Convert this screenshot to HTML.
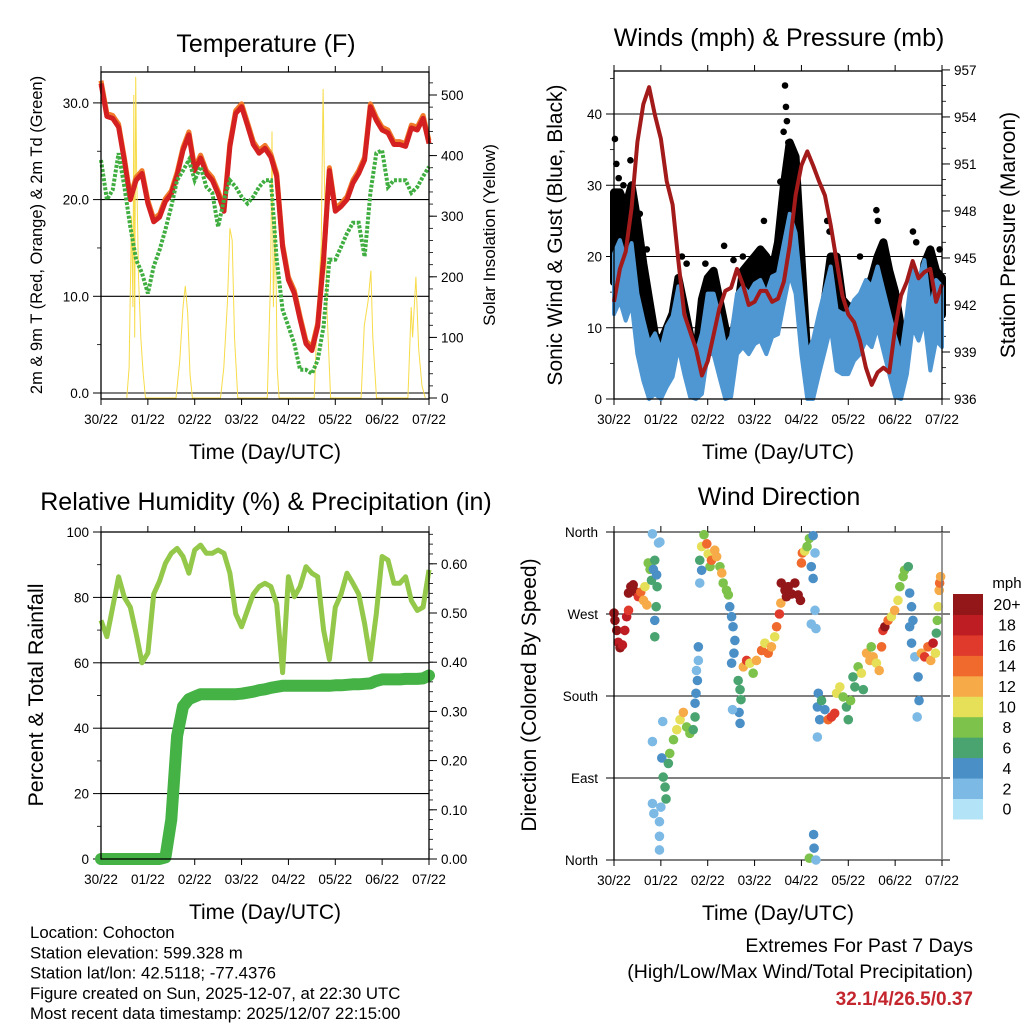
<!DOCTYPE html>
<html><head><meta charset="utf-8"><style>
html,body{margin:0;padding:0;background:#fff;}
svg{display:block;font-family:"Liberation Sans",sans-serif;}
</style></head><body>
<svg id="chart" width="1024" height="1024" viewBox="0 0 1024 1024" xmlns="http://www.w3.org/2000/svg"></svg>
<script>
// ---------- DATA ----------
const dayLabels = ["30/22","01/22","02/22","03/22","04/22","05/22","06/22","07/22"];
const step = 0.125; // days between samples
const tempRed = [32,28.6,28.4,27.5,24,20,22,22.7,19.6,17.7,18.2,19.8,20.6,22.5,25.1,26.7,23,24.3,22.7,22,20.6,18.8,25.5,28.9,29.6,27.7,25.7,24.8,25.3,24.4,22.4,15.1,11.7,10.3,7.6,5.1,4.4,6.9,13.8,23,18.8,19.3,20,21.7,22.7,24.1,29.6,28.2,27.2,26.9,25.7,25.7,25.5,27.4,27.2,28.4,25.8];
const dewGreen = [24.1,20,21,24.8,21.3,17.2,13.8,12.4,10.3,13.1,14.8,16.9,19.3,22,23,24.1,22,23.4,21.3,20.7,17.2,20,22,21.3,20.3,19.6,20.3,21.3,22,22,13.8,8.6,6.9,5.1,2.4,2.4,2,3.4,6.9,13.8,13.8,15.1,16.5,17.6,17.6,14.1,20.7,24.8,25.1,21.3,22,22,22,20.7,21.3,22.4,23.4];
const solarT = [0.55,0.6,0.65,0.68,0.7,0.72,0.74,0.76,0.8,0.85,0.9,0.95,1.6,1.68,1.75,1.8,1.85,1.9,1.95,2.55,2.62,2.7,2.75,2.8,2.85,2.92,3.55,3.62,3.65,3.68,3.72,3.76,3.8,4.55,4.62,4.7,4.74,4.78,4.82,4.9,5.55,5.62,5.7,5.76,5.8,5.88,6.55,6.62,6.65,6.72,6.78,6.85,6.92];
const solarV = [0,50,300,150,500,100,530,380,200,100,40,0,0,60,150,185,140,40,0,0,50,160,280,260,100,0,0,200,440,150,300,50,0,0,150,250,510,300,150,0,0,120,160,210,100,0,0,150,100,200,80,20,0];
const pressure = [942.2,944.3,945.4,948.2,952.4,954.8,955.9,954.1,952.6,949.9,948.4,944.8,941.4,940.3,939.2,937.5,938.4,940.1,941.8,942.9,943.1,944.3,943.3,942,942.2,942.9,942.9,942.2,942.4,943.5,945.8,949,950.9,951.8,950.9,949.9,949,947.1,944.8,942.6,941.4,940.9,939.7,938,936.9,937.7,938,937.7,940.5,942.6,943.5,944.8,943.7,944.1,944.3,942.2,943.3];
const windSpd = [16.4,18.3,15.5,17.9,10.8,7.1,3.8,5.2,2.9,6.2,7.6,11.8,8,4.8,2.4,5.2,10.8,10.8,7.6,3.4,4.8,10.8,11.8,10.8,12.2,12.7,10.8,13.2,13.6,17.9,22,19.3,10.8,2.4,4.3,8,11.3,14.6,8.5,8,8,9.9,10.8,12.7,11.8,14.6,11.3,8,4.8,2,8,14.6,12.7,15.5,8.5,12.7,11.8];
const windGust = [29,29,27,30,25,19,14,9,8,10,12,17,13,9,6,14,17,18,14,10,8,12,18,19,20,21,20,18,22,30,36,34,20,6,6,9,14,20,20,14,13,13,14,15,17,20,22,18,15,10,8,14,12,19,21,18,17];
const gustPeakT = [0.02,0.05,0.1,0.2,0.35,0.42,0.55,0.7,1.45,1.55,1.95,2.35,2.55,2.75,3.2,3.55,3.62,3.65,3.67,3.69,3.72,4.55,4.6,5.25,5.6,5.63,6.38,6.45,6.95];
const gustPeakV = [36.5,33,31,30,33.5,27,26,21,20,19,19,21.5,19.5,20,25,30.5,37.5,44,41,39,36,25,23.5,20,26.5,25,23.5,22,21];
const rh = [73,68,77,86.3,80,77,69,60,63,81,85,90.4,93.5,95,92.5,87.4,94.5,96,93.5,93.5,94.5,93.5,87.4,75,71,76,81,83.3,84.3,83.3,78,57,86.3,80.2,83.3,89.4,87.4,86.3,70,61,77,81,87.4,84.3,81,72,61,75,92.5,91.4,84.3,84.3,86.3,79,76,77,88.4];
const precip = [0,0,0,0,0,0,0,0,0,0,0,0.003,0.08,0.25,0.31,0.325,0.33,0.335,0.335,0.335,0.335,0.335,0.335,0.335,0.336,0.338,0.34,0.343,0.345,0.348,0.35,0.352,0.352,0.352,0.352,0.352,0.352,0.352,0.352,0.352,0.353,0.353,0.354,0.355,0.355,0.356,0.357,0.362,0.365,0.365,0.365,0.365,0.366,0.366,0.366,0.367,0.373];
const dirT = [0,0.02,0.06,0.09,0.13,0.18,0.23,0.27,0.31,0.31,0.36,0.41,0.47,0.52,0.57,0.63,0.66,0.7,0.73,0.77,0.8,0.84,0.87,0.91,0.92,0.9,0.87,0.87,0.95,0.82,0.98,0.82,0.82,0.85,0.97,0.97,0.97,1.0,1.02,1.05,1.09,1.11,1.16,1.19,1.04,1.27,1.34,1.41,1.48,1.55,1.62,1.69,1.73,1.73,1.75,1.78,1.8,1.8,1.76,1.83,1.87,1.92,1.98,2.01,2.05,2.08,2.15,2.19,1.83,1.87,2.26,2.3,2.33,2.4,2.44,2.47,2.51,2.54,2.58,2.56,2.51,2.65,2.69,2.71,2.67,2.69,2.53,2.76,2.83,2.9,2.97,3.04,3.15,3.22,3.29,3.36,3.43,3.47,3.53,3.56,3.57,3.65,3.72,3.79,3.86,3.93,3.98,3.68,4.0,4.02,4.07,4.12,4.17,4.21,4.25,4.25,4.29,4.29,4.21,4.31,4.26,4.27,4.17,4.31,4.36,4.34,4.39,4.34,4.43,4.5,4.57,4.64,4.71,4.75,4.82,4.89,4.96,5.0,5.05,5.1,5.14,5.21,5.28,5.32,5.39,5.46,5.49,5.53,5.6,5.66,5.71,5.74,5.78,5.85,5.92,5.99,6.06,6.1,6.17,6.2,6.28,6.31,6.35,6.31,6.35,6.38,6.42,6.49,6.51,6.47,6.56,6.63,6.7,6.76,6.81,6.86,6.88,6.9,6.92,6.94,6.95,6.97];
const dirDeg = [271,263,252,239,233,236,252,267,274,293,300,302,294,289,294,285,300,280,326,319,307,319,329,313,300,278,263,245,348,358,349,130,62,51,42,26,11,58,112,91,80,67,106,117,152,132,143,154,162,146,139,143,157,172,183,197,219,234,208,329,344,357,347,336,322,329,340,333,304,318,322,315,304,296,291,278,267,256,241,227,216,197,187,176,162,150,165,212,219,216,205,219,230,238,227,234,245,256,270,282,304,296,300,292,304,291,285,289,326,337,339,344,353,322,309,356,337,274,259,254,28,13,2,0,183,168,154,135,175,165,154,157,161,183,190,179,168,154,175,201,190,212,205,187,227,219,234,223,216,208,234,252,256,263,267,274,285,300,311,318,322,293,278,256,238,263,223,201,175,157,227,223,234,219,238,227,249,263,278,296,304,311];
const dirSpd = [20,19,20,18,19,18,17,18,16,20,21,20,19,16,13,12,10,11,8,7,6,4,5,4,5,5,3,6,2,2,2,1,2,2,2,2,2,2,4,6,6,6,6,7,2,8,9,10,11,8,7,6,5,4,4,3,2,4,2,5,9,8,14,10,8,13,12,12,1,4,8,11,7,7,7,4,4,4,4,3,3,6,6,6,4,4,2,12,15,10,7,12,14,10,14,11,10,14,15,12,20,21,20,19,21,20,19,20,14,14,10,8,8,3,3,4,2,2,2,1,3,4,8,1,4,4,3,2,5,4,14,16,15,10,9,7,6,6,7,6,5,8,10,6,12,11,8,12,10,12,14,16,19,14,10,12,10,8,8,7,6,4,4,4,3,4,2,4,4,2,12,16,14,12,17,10,6,8,10,11,14,12];
const cbLabels = ["0","2","4","6","8","10","12","14","16","18","20+"];
const cbColors = ["#b3e3f7","#7cb9e4","#4b8fc7","#4aa46f","#7dc24b","#e6df58","#f6aa48","#ef6a2c","#df3a2b","#bf1d24","#931619"];

// ---------- HELPERS ----------
const NS="http://www.w3.org/2000/svg";
const svg=document.getElementById('chart');
function el(tag,attrs,parent,txt){const e=document.createElementNS(NS,tag);for(const k in attrs)e.setAttribute(k,attrs[k]);if(txt!==undefined)e.textContent=txt;(parent||svg).appendChild(e);return e;}
function grp(name){const g=el('g',{});


return g;}
function lin(d0,d1,p0,p1){return v=>p0+(v-d0)*(p1-p0)/(d1-d0);}

function panel(name,L,R,T,B){
  const g=grp(name);
  const xs=lin(0,7,L,R);
  for(let i=0;i<dayLabels.length;i++){
    const x=xs(i);
    el('line',{x1:x,y1:B,x2:x,y2:B+6,stroke:'#000','stroke-width':1},g);
    el('line',{x1:x,y1:T,x2:x,y2:T-6,stroke:'#000','stroke-width':1},g);
    const t=el('text',{x:x,y:B+25,'font-size':13.5,'text-anchor':'middle'},g,dayLabels[i]);
    
    
  }
  const xt=el('text',{x:(L+R)/2,y:B+60,'font-size':21,'text-anchor':'middle'},g,'Time (Day/UTC)');
  
  
  return {g,xs};
}
function yaxis(g,L,R,T,B,scale,side,majors,minors,fmt,grid){
  const x=side==='left'?L:R, dir=side==='left'?-1:1;
  minors.forEach(v=>{const y=scale(v);if(y<T-1||y>B+1)return;el('line',{x1:x,y1:y,x2:x+dir*4,y2:y,stroke:'#000','stroke-width':0.8},g);});
  majors.forEach(v=>{const y=scale(v);
    el('line',{x1:x,y1:y,x2:x+dir*8,y2:y,stroke:'#000','stroke-width':1},g);
    if(grid)el('line',{x1:L,y1:y,x2:R,y2:y,stroke:'#000','stroke-width':1.1},g);
    const t=el('text',{x:x+dir*12,y:y+5,'font-size':13.5,'text-anchor':side==='left'?'end':'start'},g,fmt(v));
    
    
  });
}
function frame(g,L,R,T,B){el('rect',{x:L,y:T,width:R-L,height:B-T,fill:'none',stroke:'#000','stroke-width':1.3},g);}
function title(txt,x,y,name,size){const t=el('text',{x:x,y:y,'font-size':size||25,'text-anchor':'middle'},svg,txt);

}
function vlabel(g,txt,x,y,size,name){const t=el('text',{x:x,y:y,'font-size':size,'text-anchor':'middle',transform:`rotate(-90 ${x} ${y})`},g,txt);

}
function pathFrom(ts,vs,xs,ys){return ts.map((t,i)=>(i?'L':'M')+xs(t).toFixed(1)+','+ys(vs[i]).toFixed(1)).join('');}
const idxT=arr=>arr.map((_,i)=>i*step);
function range(a,b,s){const r=[];for(let v=a;v<=b+1e-9;v+=s)r.push(+v.toFixed(4));return r;}

// ---------- PANEL 1: TEMPERATURE ----------
{
  const L=101,R=429,T=72,B=399;
  const {g,xs}=panel('temperature-panel',L,R,T,B);
  const yT=v=>393-9.67*v;
  const yS=v=>398-0.606*v;
  yaxis(g,L,R,T,B,yT,'left',[0,10,20,30],[5,15,25],v=>v.toFixed(1),true);
  yaxis(g,L,R,T,B,yS,'right',[0,100,200,300,400,500],range(0,540,20),v=>String(v),false);
  const sp=el('path',{d:pathFrom(solarT,solarV,xs,yS),fill:'none',stroke:'#f7dc4a','stroke-width':1},g);
  
  
  const tt=idxT(tempRed);
  const o=el('path',{d:pathFrom(tt,tempRed.map(v=>v+0.3),xs,yT),fill:'none',stroke:'#f07a2a','stroke-width':5,'stroke-linejoin':'round'},g);
  
  
  const r=el('path',{d:pathFrom(tt,tempRed,xs,yT),fill:'none',stroke:'#d42020','stroke-width':5,'stroke-linejoin':'round'},g);
  
  
  const dg=el('path',{d:pathFrom(idxT(dewGreen),dewGreen,xs,yT),fill:'none',stroke:'#3fad3f','stroke-width':4,'stroke-dasharray':'3 1.6'},g);
  
  
  frame(g,L,R,T,B);
  vlabel(g,'2m & 9m T (Red, Orange) & 2m Td (Green)',42,235,16.5,'left-y-axis-title');
  vlabel(g,'Solar Insolation (Yellow)',495,235,17,'right-y-axis-title');
  title('Temperature (F)',266,52,'temperature-title');
}

// ---------- PANEL 2: WINDS ----------
{
  const L=614,R=942,T=71,B=399;
  const {g,xs}=panel('winds-panel',L,R,T,B);
  const yW=v=>399-7.125*v;
  const yP=v=>399-15.67*(v-936);
  yaxis(g,L,R,T,B,yW,'left',[0,10,20,30,40],[5,15,25,35,45],v=>String(v),true);
  yaxis(g,L,R,T,B,yP,'right',[936,939,942,945,948,951,954,957],range(936,957,1),v=>String(v),false);
  const wt=idxT(windSpd);
  const gd=pathFrom(wt,windGust,xs,yW)+pathFrom(wt.slice().reverse(),windSpd.slice().reverse(),xs,yW).replace('M','L')+'Z';
  const gb=el('path',{d:gd,fill:'#000',stroke:'#000','stroke-width':8,'stroke-linejoin':'round'},g);
  
  
  gustPeakT.forEach((t,i)=>{const c=el('circle',{cx:xs(t),cy:yW(gustPeakV[i]),r:3.3,fill:'#000'},g);
    
    });
  const lo=windSpd.map(v=>Math.max(0,v-4.5)), hi=windSpd.map(v=>v+4);
  const wd=pathFrom(wt,hi,xs,yW)+pathFrom(wt.slice().reverse(),lo.slice().reverse(),xs,yW).replace('M','L')+'Z';
  const wb=el('path',{d:wd,fill:'#4f97d3',stroke:'#4f97d3','stroke-width':4,'stroke-linejoin':'round'},g);
  
  
  const pl=el('path',{d:pathFrom(idxT(pressure),pressure,xs,yP),fill:'none',stroke:'#a31a1a','stroke-width':4,'stroke-linejoin':'round'},g);
  
  
  frame(g,L,R,T,B);
  vlabel(g,'Sonic Wind & Gust (Blue, Black)',562,235,21,'left-y-axis-title');
  vlabel(g,'Station Pressure (Maroon)',1015,235,21,'right-y-axis-title');
  title('Winds (mph) & Pressure (mb)',779,46,'winds-title');
}

// ---------- PANEL 3: RH & PRECIP ----------
{
  const L=101,R=429,T=532,B=859;
  const {g,xs}=panel('humidity-panel',L,R,T,B);
  const yH=v=>859-3.27*v;
  const yR=v=>859-492*v;
  yaxis(g,L,R,T,B,yH,'left',[0,20,40,60,80,100],[10,30,50,70,90],v=>String(v),true);
  yaxis(g,L,R,T,B,yR,'right',[0,0.1,0.2,0.3,0.4,0.5,0.6],range(0,0.66,0.02),v=>v.toFixed(2),false);
  const rl=el('path',{d:pathFrom(idxT(rh),rh,xs,yH),fill:'none',stroke:'#93c84a','stroke-width':5,'stroke-linejoin':'round'},g);
  
  
  const pr=el('path',{d:pathFrom(idxT(precip),precip,xs,yR),fill:'none',stroke:'#45b245','stroke-width':12,'stroke-linejoin':'round','stroke-linecap':'round'},g);
  
  
  frame(g,L,R,T,B);
  vlabel(g,'Percent & Total Rainfall',43,695,21.5,'left-y-axis-title');
  title('Relative Humidity (%) & Precipitation (in)',266,510,'humidity-title');
}

// ---------- PANEL 4: WIND DIRECTION ----------
{
  const L=614,R=942,T=532,B=860;
  const {g,xs}=panel('wind-direction-panel',L,R,T,B);
  const yD=v=>860-v*(328/360);
  const dirNames=["North","East","South","West","North"];
  dirNames.forEach((n,i)=>{const y=yD(i*90);
    el('line',{x1:L-8,y1:y,x2:R+8,y2:y,stroke:'#000','stroke-width':1.1},g);
    const t=el('text',{x:L-16,y:y+5,'font-size':13.5,'text-anchor':'end'},g,n);
    
    
  });
  dirT.forEach((t,i)=>{
    const bin=Math.min(10,Math.max(0,Math.round(dirSpd[i]/2)));
    const c=el('circle',{cx:xs(t),cy:yD(dirDeg[i]),r:4.8,fill:cbColors[bin]},g);
    
    
  });
  el('line',{x1:L,y1:T,x2:L,y2:B,stroke:'#000','stroke-width':1.3},g);
  el('line',{x1:R,y1:T,x2:R,y2:B,stroke:'#777','stroke-width':1.5},g);
  vlabel(g,'Direction (Colored By Speed)',536,695,21,'left-y-axis-title');
  title('Wind Direction',779,505,'wind-direction-title');
  const cb=grp('speed-colorbar');
  const cbTop=594,cbH=20.45;
  for(let i=0;i<cbColors.length;i++){
    const y=cbTop+(cbColors.length-1-i)*cbH;
    el('rect',{x:953,y:y,width:30,height:cbH+0.5,fill:cbColors[i]},cb);
    const t=el('text',{x:1007,y:y+cbH/2+6,'font-size':16,'text-anchor':'middle'},cb,cbLabels[i]);
    
    
  }
  const u=el('text',{x:1007,y:588,'font-size':15,'text-anchor':'middle'},cb,'mph');
  
  
}

// ---------- FOOTER TEXT ----------
const info=["Location: Cohocton","Station elevation: 599.328 m","Station lat/lon: 42.5118; -77.4376","Figure created on Sun, 2025-12-07, at 22:30 UTC","Most recent data timestamp: 2025/12/07 22:15:00"];
info.forEach((s,i)=>{const t=el('text',{x:30,y:938+i*20.3,'font-size':16.8},svg,s);
  
  });
const e1=el('text',{x:973,y:952,'font-size':19.5,'text-anchor':'end'},svg,'Extremes For Past 7 Days');


const e2=el('text',{x:973,y:978,'font-size':19.5,'text-anchor':'end'},svg,'(High/Low/Max Wind/Total Precipitation)');


const e3=el('text',{x:973,y:1005,'font-size':19,'font-weight':'bold','text-anchor':'end',fill:'#c4262e'},svg,'32.1/4/26.5/0.37');


</script>
</body></html>
